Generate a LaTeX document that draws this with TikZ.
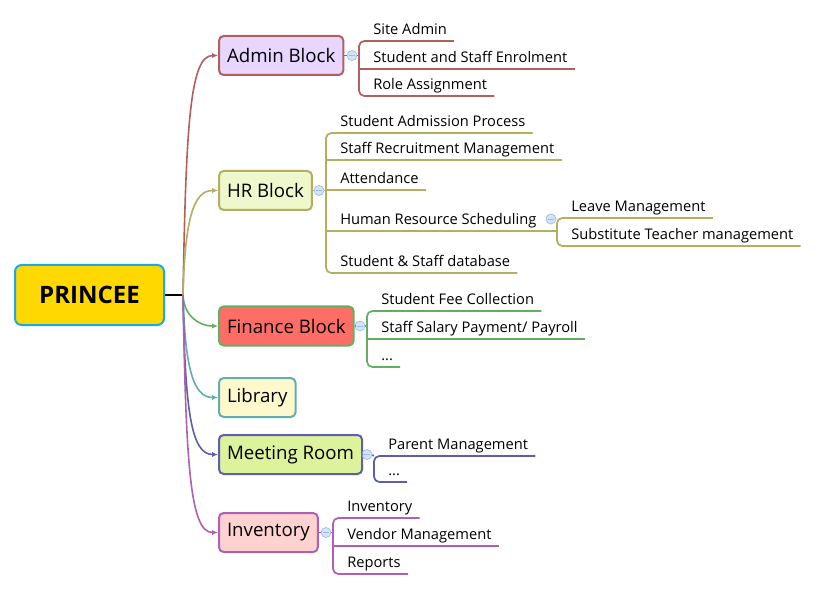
\documentclass[tikz,border=0pt]{standalone}
\usepackage{fontspec}
\setmainfont{Open Sans}
\usepackage{tikz}
\usepackage{xcolor}
\usetikzlibrary{arrows.meta,positioning,calc}
\definecolor{rootfill}{HTML}{FFD800}
\definecolor{rootline}{HTML}{1AA9E8}
\definecolor{admline}{HTML}{B2605E}
\definecolor{admfill}{HTML}{E8D6FF}
\definecolor{hrline}{HTML}{B2AF60}
\definecolor{hrfill}{HTML}{EEF8CC}
\definecolor{finline}{HTML}{60B060}
\definecolor{finfill}{HTML}{FF6E66}
\definecolor{libline}{HTML}{60AFAF}
\definecolor{libfill}{HTML}{FFF8CC}
\definecolor{meetline}{HTML}{5E5EB0}
\definecolor{meetfill}{HTML}{DCF39C}
\definecolor{invline}{HTML}{B060B0}
\definecolor{invfill}{HTML}{FFD2D2}
\definecolor{knobfill}{HTML}{D5E3F8}
\definecolor{knobline}{HTML}{9DBBE6}
\tikzset{
  rootcard/.style={draw=rootline,fill=rootfill,line width=1.5pt,rounded corners=5pt,
                   minimum width=111.75pt,minimum height=45pt,
                   font=\fontsize{18}{21}\selectfont\bfseries},
  block/.style={line width=1.5pt,rounded corners=3.5pt,anchor=west,
                minimum height=29.25pt,inner xsep=6pt,
                font=\fontsize{14}{17}\selectfont},
  leaf/.style={anchor=south west,inner xsep=5.25pt,inner ysep=2pt,
               text height=8pt,text depth=2.5pt,
               font=\fontsize{11}{13}\selectfont},
  knob/.style={circle,draw=knobline,fill=knobfill,line width=0.5pt,
               minimum size=7.5pt,inner sep=0pt,
               path picture={\draw[knobline,line width=0.6pt]
                 ([xshift=-2pt]path picture bounding box.center) --
                 ([xshift=2pt]path picture bounding box.center);}},
  conn/.style={-{Latex[length=4.5pt,width=4pt]},line width=1.2pt},
  branch/.style={line width=1.3pt,rounded corners=4pt}
}
\begin{document}
\begin{tikzpicture}[x=0.75pt,y=0.75pt]
    \path[use as bounding box,fill=white] (0,0) rectangle (820,-591);
    \node[rootcard] (root) at (89.5,-295) {PRINCEE};
    \coordinate (hub) at (183,-295);
    \draw[line width=1.5pt] (root.east) -- (hub);

    \node[block,draw=admline,fill=admfill] (admin) at (218,-55.5) {Admin Block};
    \node[block,draw=hrline,fill=hrfill] (hr) at (218,-190.5) {HR Block};
    \node[block,draw=finline,fill=finfill] (finance) at (218,-326) {Finance Block};
    \node[block,draw=libline,fill=libfill] (library) at (218,-397.5) {Library};
    \node[block,draw=meetline,fill=meetfill] (meeting) at (218,-454.5) {Meeting Room};
    \node[block,draw=invline,fill=invfill] (inventory) at (218,-532.5) {Inventory};

    \draw[conn,admline] (hub) .. controls +(3,170) and +(-28,0) .. (admin.west);
    \draw[conn,hrline] (hub) .. controls +(2,75) and +(-25,0) .. (hr.west);
    \draw[conn,finline] (hub) .. controls +(1,-22) and +(-18,0) .. (finance.west);
    \draw[conn,libline] (hub) .. controls +(2,-72) and +(-25,0) .. (library.west);
    \draw[conn,meetline] (hub) .. controls +(2,-115) and +(-27,0) .. (meeting.west);
    \draw[conn,invline] (hub) .. controls +(3,-170) and +(-28,0) .. (inventory.west);

    % admin block
    \coordinate (admtrunk) at (359,-55.5);
    \node[knob] (admknob) at (352,-55.5) {};
    \node[leaf] (siteadmin) at (366,-41) {Site Admin};
    \node[leaf] (enrolment) at (366,-69) {Student and Staff Enrolment};
    \node[leaf] (roles) at (366,-96) {Role Assignment};
    \draw[branch,admline] (admin) -- (admknob) -- (admtrunk);
    \draw[branch,admline] (siteadmin.south east) -- (siteadmin.south -| admtrunk)
      -- (roles.south -| admtrunk) -- (roles.south east);
    \draw[branch,admline] (enrolment.south -| admtrunk) -- (enrolment.south east);

    % hr block
    \coordinate (hrtrunk) at (326,-190.5);
    \node[knob] (hrknob) at (319,-190.5) {};
    \node[leaf] (admission) at (333,-133) {Student Admission Process};
    \node[leaf] (recruit) at (333,-160) {Staff Recruitment Management};
    \node[leaf] (attend) at (333,-190) {Attendance};
    \node[leaf] (sched) at (333,-231) {Human Resource Scheduling};
    \node[leaf] (database) at (333,-273) {Student \& Staff database};
    \draw[branch,hrline] (hr) -- (hrknob) -- (hrtrunk);
    \draw[branch,hrline] (admission.south east) -- (admission.south -| hrtrunk)
      -- (database.south -| hrtrunk) -- (database.south east);
    \draw[branch,hrline] (recruit.south -| hrtrunk) -- (recruit.south east);
    \draw[branch,hrline] (attend.south -| hrtrunk) -- (attend.south east);
    \coordinate (schedtrunk) at (557,-231);
    \node[knob] (schedknob) at (551,-219) {};
    \node[leaf] (leave) at (564,-218) {Leave Management};
    \node[leaf] (substitute) at (564,-246) {Substitute Teacher management};
    \draw[branch,hrline] (sched.south -| hrtrunk) -- (schedtrunk);
    \draw[branch,hrline] (leave.south east) -- (leave.south -| schedtrunk)
      -- (substitute.south -| schedtrunk) -- (substitute.south east);

    % finance block
    \coordinate (fintrunk) at (367,-326);
    \node[knob] (finknob) at (360,-326) {};
    \node[leaf] (fees) at (374,-311) {Student Fee Collection};
    \node[leaf] (salary) at (374,-339) {Staff Salary Payment/ Payroll};
    \node[leaf] (finmore) at (374,-367) {...};
    \draw[branch,finline] (finance) -- (finknob) -- (fintrunk);
    \draw[branch,finline] (fees.south east) -- (fees.south -| fintrunk)
      -- (finmore.south -| fintrunk) -- (finmore.south east);
    \draw[branch,finline] (salary.south -| fintrunk) -- (salary.south east);

    % meeting room
    \coordinate (meettrunk) at (374,-455.5);
    \node[knob] (meetknob) at (367,-454.5) {};
    \node[leaf] (parents) at (381,-456) {Parent Management};
    \node[leaf] (meetmore) at (381,-482) {...};
    \draw[branch,meetline] (meeting) -- (meetknob) -- (meettrunk);
    \draw[branch,meetline] (parents.south east) -- (parents.south -| meettrunk)
      -- (meetmore.south -| meettrunk) -- (meetmore.south east);

    % inventory
    \coordinate (invtrunk) at (333,-532.5);
    \node[knob] (invknob) at (326,-532.5) {};
    \node[leaf] (stock) at (340,-518) {Inventory};
    \node[leaf] (vendors) at (340,-546) {Vendor Management};
    \node[leaf] (reports) at (340,-574) {Reports};
    \draw[branch,invline] (inventory) -- (invknob) -- (invtrunk);
    \draw[branch,invline] (stock.south east) -- (stock.south -| invtrunk)
      -- (reports.south -| invtrunk) -- (reports.south east);
    \draw[branch,invline] (vendors.south -| invtrunk) -- (vendors.south east);
  \end{tikzpicture}
\end{document}
